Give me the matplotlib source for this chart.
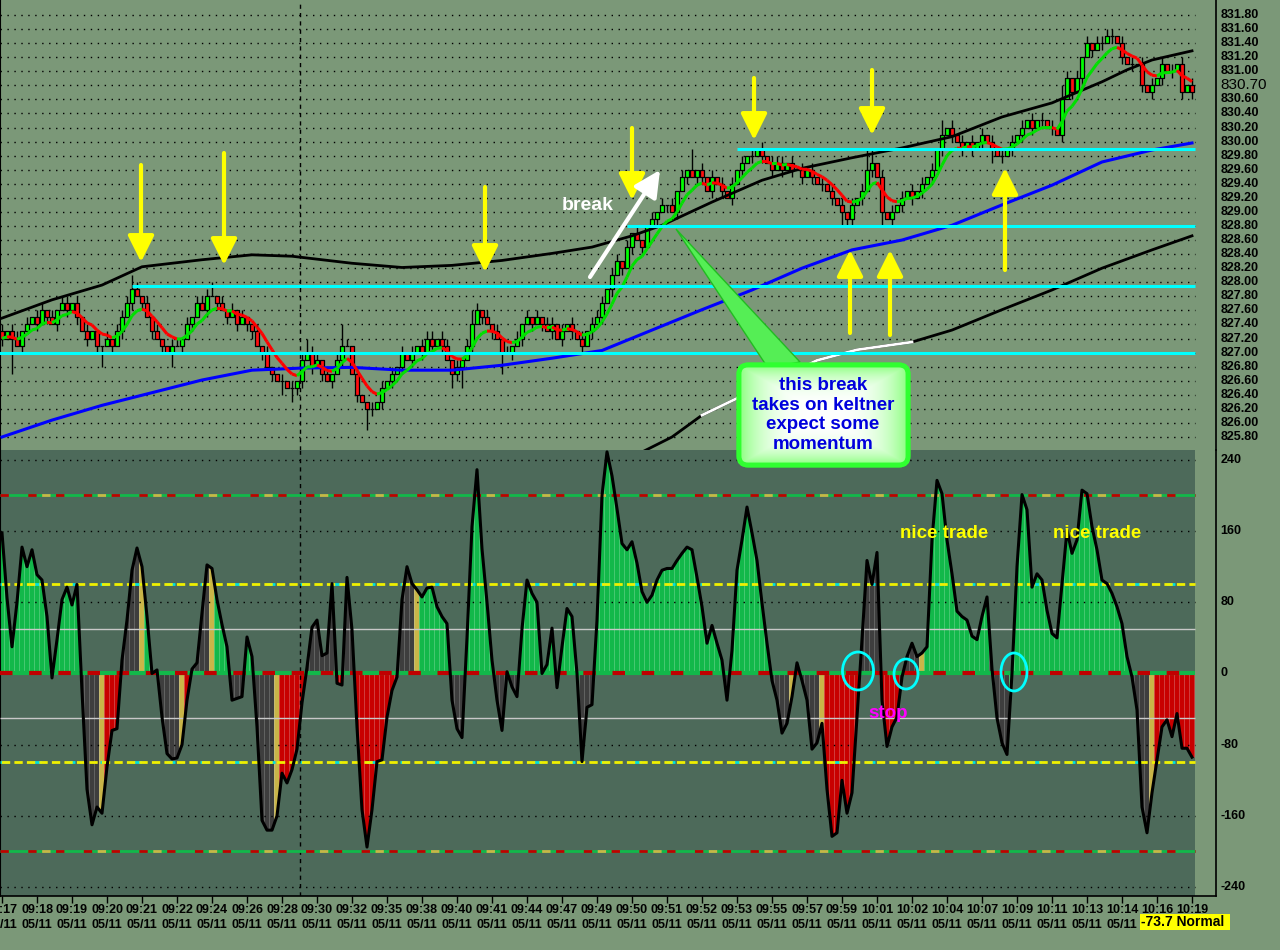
import numpy as np
import matplotlib
matplotlib.use("Agg")
import matplotlib.pyplot as plt
from matplotlib.patches import Rectangle, Ellipse, FancyBboxPatch, Polygon
from matplotlib.collections import LineCollection, PolyCollection

plt.rcParams['font.family'] = ['Liberation Sans', 'DejaVu Sans']
NARROW = ['Liberation Sans Narrow', 'Liberation Sans', 'DejaVu Sans']

# ------------------------------------------------------------------ data
time_labels = ['09:17', '09:18', '09:19', '09:20', '09:21', '09:22', '09:24', '09:26', '09:28',
               '09:30', '09:32', '09:35', '09:38', '09:40', '09:41', '09:44', '09:47', '09:49',
               '09:50', '09:51', '09:52', '09:53', '09:55', '09:57', '09:59', '10:01', '10:02',
               '10:04', '10:07', '10:09', '10:11', '10:13', '10:14', '10:16', '10:19']
date_text = '05/11'
dates_hidden_from = 33   # last date labels sit under the status box

# closes in tenths above 825.00
close_tenths = [
    22, 23, 22, 21, 23, 24, 25, 24, 26, 25,
    24, 26, 27, 26, 27, 25, 23, 22, 23, 21,
    21, 22, 21, 23, 25, 27, 29, 28, 27, 25,
    23, 22, 21, 20, 21, 21, 22, 24, 25, 27,
    26, 28, 28, 27, 26, 25, 26, 24, 25, 24,
    23, 21, 20, 18, 17, 16, 16, 15, 15, 16,
    19, 20, 18, 19, 17, 16, 17, 19, 21, 21,
    17, 14, 13, 12, 12, 13, 15, 16, 17, 18,
    20, 19, 20, 21, 20, 22, 21, 22, 21, 19,
    17, 18, 19, 21, 24, 26, 25, 24, 23, 22,
    20, 20, 21, 22, 24, 25, 24, 25, 24, 23,
    24, 22, 23, 24, 23, 22, 21, 23, 24, 25,
    27, 29, 31, 33, 32, 35, 37, 36, 35, 38,
    39, 40, 41, 41, 40, 43, 45, 46, 45, 46,
    45, 43, 45, 44, 43, 42, 44, 46, 47, 48,
    48, 49, 48, 47, 46, 47, 46, 47, 46, 46,
    45, 46, 45, 44, 44, 43, 42, 41, 40, 39,
    41, 42, 43, 46, 47, 45, 40, 39, 40, 41,
    42, 43, 42, 43, 44, 45, 46, 49, 51, 52,
    51, 50, 49, 50, 49, 50, 51, 50, 49, 48,
    48, 49, 50, 51, 52, 53, 52, 53, 53, 52,
    52, 51, 56, 59, 57, 59, 62, 64, 63, 64,
    64, 65, 65, 64, 62, 61, 61, 61, 58, 57,
    58, 59, 61, 60, 60, 61, 57, 58, 57]
first_open = 827.30
# wick lengths (tenths) above / below the body
wick_up_digits = ("1011010110 1011010100 0101112101 0100110101 1120101010 0101001010 "
                  "1211010131 0100101010 1010111011 0101210101 0101010101 1010101011 "
                  "1011010100 1010101030 1010101010 1010111010 1010101010 1013201010 "
                  "1010101020 1010101010 1010101010 1021010101 1110101010 101010101")
wick_dn_digits = ("1050100101 0101010101 3010101010 1010201010 0101010101 1010102021 "
                  "1010101010 0103101010 1010101010 2130101010 3010101010 1010101010 "
                  "1010101010 0101010101 1010101010 1010101010 1010101021 1010102010 "
                  "1010101010 1010101020 1010101010 1010101010 1010101010 101010101")

cci = [
    158, 85, 30, 80, 142, 120, 139, 111, 105, 64,
    -5, 38, 83, 97, 77, 100, -20, -130, -170, -150,
    -157, -105, -64, -62, 15, 60, 116, 141, 120, 64,
    0, 4, -49, -90, -96, -95, -80, -30, 5, 12,
    68, 122, 118, 83, 55, 30, -30, -28, -26, 41,
    19, -60, -165, -176, -176, -160, -112, -123, -108, -85,
    -33, 7, 52, 60, 20, 23, 101, -11, -13, 108,
    49, -60, -153, -195, -153, -99, -97, -49, -19, -4,
    83, 120, 101, 94, 86, 96, 97, 75, 64, 56,
    -30, -62, -72, 40, 165, 229, 140, 80, 15, -30,
    -64, 2, -15, -26, 50, 105, 90, 80, 0, 10,
    51, -16, 30, 73, 64, 0, -99, -38, -35, 60,
    200, 249, 222, 185, 146, 139, 148, 124, 92, 80,
    88, 105, 116, 118, 118, 127, 135, 142, 139, 108,
    75, 34, 54, 34, 15, -30, 26, 116, 150, 187,
    158, 127, 79, 34, -8, -30, -67, -56, -26, 12,
    -8, -30, -85, -78, -56, -130, -183, -179, -120, -157,
    -134, -49, 38, 127, 100, 136, -30, -82, -60, -49,
    -4, 19, 34, 19, 23, 30, 150, 217, 202, 150,
    112, 70, 64, 60, 42, 38, 64, 86, 5, -50,
    -78, -91, 0, 120, 201, 184, 97, 112, 105, 71,
    45, 40, 101, 161, 135, 150, 206, 202, 165, 139,
    105, 101, 90, 75, 56, 19, -4, -41, -150, -179,
    -134, -97, -60, -52, -71, -45, -84, -84, -94]
# histogram colour states (g trend up, r trend down, k neutral, y trend change bar)
cci_color_runs = [('g', 10), ('k', 1), ('g', 5), ('k', 4), ('y', 1), ('r', 3), ('k', 4), ('y', 1),
                  ('g', 3), ('k', 4), ('y', 1), ('r', 1), ('k', 4), ('y', 1), ('g', 3), ('k', 3),
                  ('g', 2), ('k', 4), ('y', 1), ('r', 5), ('k', 6), ('r', 2), ('k', 2), ('r', 9),
                  ('k', 3), ('y', 1), ('g', 6), ('k', 3), ('g', 6), ('k', 2), ('g', 1), ('k', 2),
                  ('g', 7), ('k', 1), ('g', 4), ('k', 3), ('g', 26), ('k', 1), ('g', 8), ('k', 4),
                  ('y', 1), ('k', 5), ('y', 1), ('r', 7), ('k', 4), ('r', 4), ('k', 4), ('y', 1),
                  ('g', 13), ('k', 4), ('g', 24), ('k', 4), ('y', 1), ('r', 8)]

upper_band_bar = [0, 10, 20, 28, 40, 50, 58, 70, 80, 90, 100, 110, 118, 126, 132, 142, 152, 160,
                  170, 180, 190, 200, 210, 220, 225, 230, 238]
upper_band = [827.49, 827.75, 827.96, 828.22, 828.32, 828.39, 828.37, 828.27, 828.21, 828.24,
              828.31, 828.41, 828.50, 828.66, 828.81, 829.14, 829.45, 829.62, 829.77, 829.91,
              830.07, 830.35, 830.55, 830.85, 831.02, 831.16, 831.29]
mid_line_bar = [0, 10, 20, 30, 40, 50, 60, 70, 80, 90, 100, 110, 120, 130, 140, 150, 160, 170,
                180, 190, 200, 210, 220, 230, 238]
mid_line = [825.80, 826.04, 826.25, 826.43, 826.61, 826.75, 826.78, 826.79, 826.75, 826.75,
            826.82, 826.92, 827.03, 827.32, 827.61, 827.89, 828.20, 828.46, 828.60, 828.81,
            829.10, 829.38, 829.71, 829.88, 829.98]
lower_band_bar = [127, 134, 140, 147, 155, 163, 171, 182, 190, 200, 210, 220, 230, 238]
lower_band = [825.55, 825.80, 826.11, 826.35, 826.62, 826.89, 827.04, 827.15, 827.32, 827.61,
              827.89, 828.20, 828.46, 828.66]
lower_band_white = (140, 182)

sr_levels = [829.90, 828.80, 827.95, 827.00]
sr_start_bar = [147, 125, 26, -1]

price_ticks = np.round(np.arange(825.8, 831.81, 0.2), 2)
last_price = 830.70
last_price_slot = 830.80   # the last-price label replaces this tick label
cci_ticks = [240, 160, 80, 0, -80, -160, -240]
status_text = '-73.7 Normal'

# ------------------------------------------------------------------ derived
n = len(close_tenths)
x = np.arange(n)
closes = 825.0 + np.array(close_tenths) / 10.0
opens = np.r_[first_open, closes[:-1]]
wu = np.array([int(c) for c in wick_up_digits.replace(' ', '')][:n]) / 10.0
wd = np.array([int(c) for c in wick_dn_digits.replace(' ', '')][:n]) / 10.0
highs = np.maximum(opens, closes) + wu
lows = np.minimum(opens, closes) - wd

span = 7
alpha = 2.0 / (span + 1)
ema = np.empty(n)
ema[0] = closes[0]
for i in range(1, n):
    ema[i] = alpha * closes[i] + (1 - alpha) * ema[i - 1]

cci_arr = np.array(cci, dtype=float)
states = ''.join(c * k for c, k in cci_color_runs)

# ------------------------------------------------------------------ style
BG = '#7b9878'
PANEL2 = '#4d6a5a'
W, H = 1280, 950
XL = (-0.4, 242.8)
XEND = 238.6

fig = plt.figure(figsize=(12.8, 9.5), dpi=100)
fig.patch.set_facecolor(BG)
ax1 = fig.add_axes([0, 500 / H, 1216 / W, 450 / H])
ax2 = fig.add_axes([0, 54 / H, 1216 / W, 446 / H])
for ax in (ax1, ax2):
    ax.set_facecolor('none')
    ax.set_xlim(*XL)
    ax.spines['top'].set_visible(False)
    ax.spines['left'].set_color('black')
    ax.spines['right'].set_color('black')
    ax.spines['right'].set_linewidth(1.2)
ax1.spines['bottom'].set_visible(False)
ax2.spines['bottom'].set_color('black')
ax2.spines['bottom'].set_linewidth(1.2)
ax1.set_ylim(825.615, 832.013)
ax2.set_ylim(-250, 251.1)
ax1.set_xticks([])
ax1.set_yticks([])
ax2.set_yticks([])

# ---------------- upper panel
for p in price_ticks:
    ax1.hlines(p, XL[0], XEND, colors='black', linestyles=(0, (1, 4)), lw=1, zorder=1)
for lv, st in zip(sr_levels, sr_start_bar):
    ax1.hlines(lv, st, XEND, colors='#00ffff', lw=2.2, zorder=5)

ax1.plot(upper_band_bar, upper_band, color='black', lw=2, zorder=4)
ax1.plot(mid_line_bar, mid_line, color='#0000ff', lw=2.2, zorder=4)
ax1.plot(lower_band_bar, lower_band, color='black', lw=2, zorder=4)
lb = np.array(lower_band_bar)
msk = (lb >= lower_band_white[0]) & (lb <= lower_band_white[1])
ax1.plot(lb[msk], np.array(lower_band)[msk], color='white', lw=2, zorder=4.1)

# candles
wicks = [[(i, lows[i]), (i, highs[i])] for i in range(n)]
ax1.add_collection(LineCollection(wicks, colors='black', lw=1, zorder=3))
bw = 0.38
bodies, bcols = [], []
for i in range(n):
    lo, hi = min(opens[i], closes[i]), max(opens[i], closes[i])
    bodies.append([(i - bw, lo), (i + bw, lo), (i + bw, hi), (i - bw, hi)])
    if closes[i] > opens[i]:
        bcols.append('#00ff00')
    elif closes[i] < opens[i]:
        bcols.append('#ff1010')
    else:
        bcols.append('black')
ax1.add_collection(PolyCollection(bodies, facecolors=bcols, edgecolors='black', lw=0.9, zorder=3.2))

# slope coloured moving average
segs, scol = [], []
for i in range(1, n):
    segs.append([(i - 1, ema[i - 1]), (i, ema[i])])
    scol.append('#00e000' if ema[i] >= ema[i - 1] else '#ff0000')
ax1.add_collection(LineCollection(segs, colors=scol, lw=2.2, zorder=4.5))

ax1.axvline(59.6, color='black', ls=(0, (3, 3)), lw=1, zorder=2)

for p in price_ticks:
    if abs(p - last_price_slot) < 1e-6:
        continue
    ax1.annotate(f'{p:.2f}', xy=(1, p), xycoords=('axes fraction', 'data'), xytext=(3, 0),
                 textcoords='offset points', va='center', ha='left', fontsize=9,
                 fontweight='bold', family=NARROW, color='black', annotation_clip=False)
ax1.annotate(f'{last_price:.2f}', xy=(1, last_price_slot), xycoords=('axes fraction', 'data'),
             xytext=(3, 0), textcoords='offset points', va='center', ha='left', fontsize=11,
             color='black', annotation_clip=False)

# ---------------- lower panel
ax2.add_patch(Rectangle((XL[0], -250), XEND - XL[0], 501.1, facecolor=PANEL2, edgecolor='none', zorder=0))
face = {'g': '#12b84a', 'r': '#c80000', 'k': '#3e3e3e', 'y': '#c9b548'}
edge = {'g': '#4fcf7a', 'r': '#d84848', 'k': '#6a6a6a', 'y': '#ddd080'}
polys, fcs, ecs = [], [], []
for i in range(n):
    v = cci_arr[i]
    vl = (cci_arr[i - 1] + v) / 2 if i > 0 else v
    vr = (cci_arr[i + 1] + v) / 2 if i < n - 1 else v
    if vl * v < 0:
        vl = 0
    if vr * v < 0:
        vr = 0
    polys.append([(i - 0.5, 0), (i - 0.5, vl), (i, v), (i + 0.5, vr), (i + 0.5, 0)])
    fcs.append(face[states[i]])
    ecs.append(edge[states[i]])
ax2.add_collection(PolyCollection(polys, facecolors=fcs, edgecolors=ecs, lw=0.5, zorder=2))

for lv in (240, 160, 80, -80, -160, -240):
    ax2.hlines(lv, XL[0], XEND, colors='black', linestyles=(0, (1, 4)), lw=1, zorder=3)
for lv in (50, -50):
    ax2.hlines(lv, XL[0], XEND, colors='#c8c8c8', lw=1, zorder=3)
for lv in (200, -200):
    ax2.hlines(lv, XL[0], XEND, colors='#12b84a', lw=2, zorder=3)
    ax2.hlines(lv, XL[0], XEND, colors='#c00000', linestyles=(0, (3, 7)), lw=2, zorder=3.1)
    ax2.hlines(lv, XL[0], XEND, colors='#c9b548', linestyles=(5, (3, 17)), lw=2, zorder=3.2)
for lv in (100, -100):
    ax2.hlines(lv, XL[0], XEND, colors='#00e0e0', linestyles=(0, (3, 9)), lw=2, zorder=3)
    ax2.hlines(lv, XL[0], XEND, colors='#f0f000', linestyles=(4, (3, 1.5, 3, 1.5, 3, 1.5)), lw=2, zorder=3.1)
ax2.hlines(0, XL[0], XEND, colors='#12b84a', lw=3, zorder=3)
ax2.hlines(0, XL[0], XEND, colors='#c00000', linestyles=(0, (3, 4)), lw=3, zorder=3.1)

ax2.plot(x, cci_arr, color='black', lw=2.2, zorder=6)
ax2.axvline(59.6, color='black', ls=(0, (3, 3)), lw=1, zorder=2.5)

ax2.set_xticks(np.arange(0, n, 7))
ax2.set_xticklabels([f'{t}\n{date_text}' if k < dates_hidden_from else t
                     for k, t in enumerate(time_labels)],
                    fontsize=9, fontweight='bold', family=NARROW, linespacing=1.25)
ax2.tick_params(axis='x', direction='out', length=5, width=1, color='black', pad=1)

for v in cci_ticks:
    ax2.annotate(f'{v}', xy=(1, v), xycoords=('axes fraction', 'data'), xytext=(3, 0),
                 textcoords='offset points', va='center', ha='left', fontsize=9,
                 fontweight='bold', family=NARROW, color='black', annotation_clip=False)

# ---------------- overlay annotations (pixel coordinates)
ov = fig.add_axes([0, 0, 1, 1], zorder=10)
ov.set_xlim(0, W)
ov.set_ylim(H, 0)
ov.axis('off')
ov.patch.set_alpha(0)

ARR = dict(arrowstyle='-|>,head_length=0.8,head_width=0.4', color='#ffff00', lw=3,
           mutation_scale=20, shrinkA=0, shrinkB=0)
for (xa, y0, y1) in [(141, 165, 262), (224, 153, 265), (485, 187, 272), (632, 128, 200),
                     (754, 78, 140), (872, 70, 135), (850, 333, 250), (890, 335, 250),
                     (1005, 270, 168)]:
    ov.annotate('', xy=(xa, y1), xytext=(xa, y0), arrowprops=ARR, zorder=12)
ov.annotate('', xy=(660, 170), xytext=(590, 277),
            arrowprops=dict(arrowstyle='-|>,head_length=0.8,head_width=0.4', color='white',
                            lw=3, mutation_scale=20, shrinkA=0, shrinkB=0), zorder=12)
ov.text(588, 205, 'break', color='white', fontsize=14, fontweight='bold', ha='center',
        va='center', zorder=12)

# callout
ov.add_patch(Polygon([(676, 229), (768, 368), (800, 362)], closed=True, facecolor='#55ee55',
                     edgecolor='#22bb22', lw=1, zorder=11))
box = FancyBboxPatch((739, 365), 169, 100, boxstyle='round,pad=0,rounding_size=9',
                     facecolor='#d8ffd0', edgecolor='#30ff30', lw=3.5, zorder=11.5)
ov.add_patch(box)
yy, xx = np.mgrid[0:1:100j, 0:1:170j]
d = np.clip(np.maximum(np.abs(xx - 0.5) * 2, np.abs(yy - 0.5) * 2), 0, 1) ** 3
img = np.zeros((100, 170, 3))
img[..., 0] = 1.0 * (1 - d) + 0.55 * d
img[..., 1] = 1.0
img[..., 2] = 1.0 * (1 - d) + 0.50 * d
im = ov.imshow(img, extent=(739, 908, 465, 365), aspect='auto', zorder=11.6)
im.set_clip_path(box)
ov.add_patch(FancyBboxPatch((739, 365), 169, 100, boxstyle='round,pad=0,rounding_size=9',
                            facecolor='none', edgecolor='#30ff30', lw=3.5, zorder=11.7))
ov.set_xlim(0, W)
ov.set_ylim(H, 0)
ov.text(823, 415, 'this break\ntakes on keltner\nexpect some\nmomentum', ha='center',
        va='center', color='#0000dd', fontsize=13.5, fontweight='bold', linespacing=1.2,
        zorder=13)

ov.text(944, 533, 'nice trade', color='#ffff00', fontsize=13.5, fontweight='bold',
        ha='center', va='center', zorder=12)
ov.text(1097, 533, 'nice trade', color='#ffff00', fontsize=13.5, fontweight='bold',
        ha='center', va='center', zorder=12)
ov.text(888, 714, 'stop', color='#ff00ff', fontsize=13.5, fontweight='bold',
        ha='center', va='center', zorder=12)
for (cx, cy, ew, eh) in [(858, 671, 31, 38), (906, 674, 24, 30), (1014, 672, 26, 38)]:
    ov.add_patch(Ellipse((cx, cy), ew, eh, fill=False, edgecolor='#00ffff', lw=2, zorder=12))

ov.add_patch(Rectangle((1140, 914), 90, 16, facecolor='#ffff00', edgecolor='none', zorder=12))
ov.text(1141, 922.5, status_text, color='black', fontsize=10, fontweight='bold', family=NARROW,
        ha='left', va='center', zorder=13)

fig.savefig('out.png', dpi=100, facecolor=fig.get_facecolor())
